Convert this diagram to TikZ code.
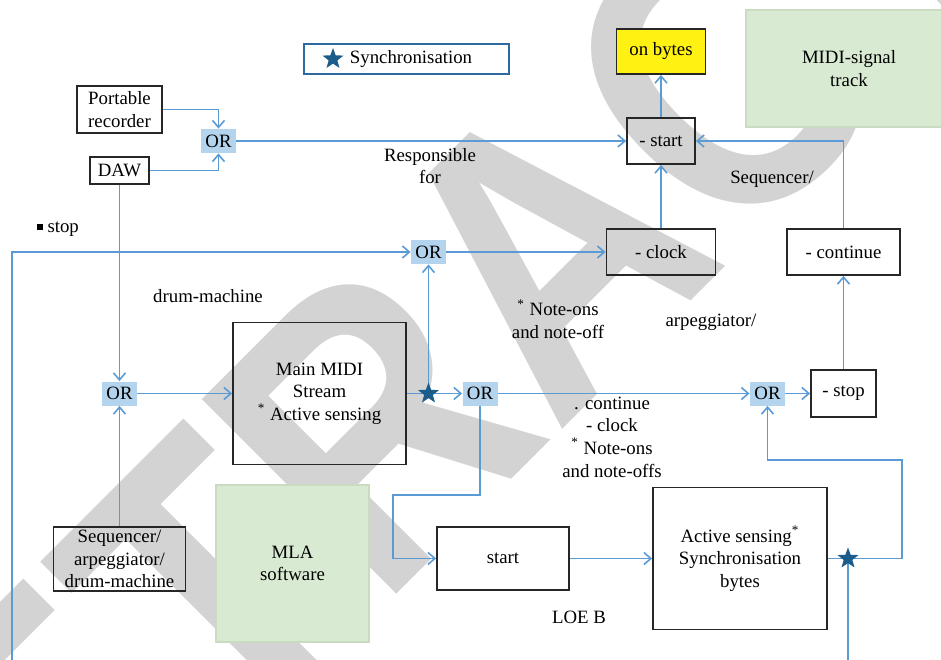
\documentclass[tikz,border=0pt]{standalone}
\usepackage{fontspec}
\setmainfont{Liberation Serif}
\setsansfont{Liberation Sans}
\usepackage{xcolor}
\usepackage{tikz}
\usetikzlibrary{positioning, shapes, shapes.geometric, arrows.meta}

\definecolor{lineblue}{HTML}{5B9BD5}
\definecolor{orfill}{HTML}{B4D4EE}
\definecolor{starblue}{HTML}{1B5C8A}
\definecolor{legendblue}{HTML}{2D6A9F}
\definecolor{softgreen}{HTML}{D9EAD3}
\definecolor{greenedge}{HTML}{C9DCC2}
\definecolor{bytesyellow}{HTML}{FFF212}
\definecolor{wmgray}{HTML}{D3D3D3}

\begin{document}
\begin{tikzpicture}[x=0.5pt, y=-0.5pt, >={Straight Barb[length=3.5pt, width=6pt]},
    font=\fontsize{9.4}{11.3}\selectfont,
    box/.style={draw=black!85, line width=0.9pt, rectangle, align=center, inner sep=1pt},
    orbox/.style={fill=orfill, rectangle, minimum width=17.5pt, minimum height=12pt, inner sep=0pt},
    greenbox/.style={fill=softgreen, draw=greenedge, line width=0.8pt, rectangle, align=center},
    link/.style={draw=lineblue, line width=0.8pt},
    sync/.style={star, star points=5, star point ratio=2.4, fill=starblue, inner sep=0pt, minimum size=11pt},
    note/.style={align=center, inner sep=1pt}]

    \useasboundingbox (0,0) rectangle (941,659);

    % Watermark
    \node[rotate=45, xscale=0.86, text=wmgray, inner sep=0pt,
          font=\fontsize{200}{200}\selectfont\sffamily\bfseries] (wm) at (547,250) {RETRACTED};

    % Legend
    \node[draw=legendblue, line width=0.8pt, rectangle, minimum width=102.5pt, minimum height=15pt] (legend) at (406.5,59) {};
    \node[sync, minimum size=11pt] (legstar) at (333,59) {};
    \node[note] (legtext) at (411,59) {Synchronisation};

    % Sources
    \node[box, minimum width=42.5pt, minimum height=23.5pt] (recorder) at (119.5,109.5) {Portable\\recorder};
    \node[box, minimum width=29.5pt, minimum height=13.5pt] (daw) at (119.5,170.5) {DAW};
    \node[box, minimum width=66pt, minimum height=32pt] (seq) at (119.5,559) {Sequencer/\\arpeggiator/\\drum-machine};

    % OR gates
    \node[orbox] (or1) at (218.5,141) {OR};
    \node[orbox] (or2) at (428.5,252) {OR};
    \node[orbox] (or3) at (119.5,393.5) {OR};
    \node[orbox] (or4) at (480,393.5) {OR};
    \node[orbox] (or5) at (767.5,393.5) {OR};

    % Message boxes
    \node[box, minimum width=34pt, minimum height=23pt] (start) at (661,141) {- start};
    \node[box, fill=bytesyellow, minimum width=44.5pt, minimum height=22.5pt] (bytes) at (661,51.5) {on bytes};
    \node[box, minimum width=54.5pt, minimum height=23pt] (clock) at (661,252) {- clock};
    \node[box, minimum width=56.5pt, minimum height=23pt] (cont) at (843.5,252) {- continue};
    \node[box, minimum width=32.5pt, minimum height=23.5pt] (stop) at (843.5,393.5) {- stop};
    \node[box, minimum width=86.5pt, minimum height=71pt] (main) at (319.5,393.5) {Main MIDI\\Stream\\\textsuperscript{*}\ Active sensing};
    \node[box, minimum width=66pt, minimum height=31.5pt] (startb) at (503,558.5) {start};
    \node[box, minimum width=87pt, minimum height=71pt] (active) at (740,558.5) {Active sensing\textsuperscript{*}\\Synchronisation\\bytes};

    % Software blocks
    \node[greenbox, minimum width=103pt, minimum height=58.5pt] (track) at (849,68.5) {MIDI-signal\\track};
    \node[greenbox, minimum width=76.5pt, minimum height=78.5pt] (mla) at (292.5,563.5) {MLA\\software};

    % Free labels
    \node[note] (resp) at (430,166) {Responsible\\for};
    \node[note] (seqlab) at (772,179) {Sequencer/};
    \node[note] (stoplab) at (58,229) {\rule[0.25ex]{0.3em}{0.3em}\ stop};
    \node[note] (drum) at (208,296) {drum-machine};
    \node[note] (notes1) at (558,319) {\textsuperscript{*} Note-ons\\and note-off};
    \node[note] (arp) at (711,322) {arpeggiator/};
    \node[note] (notes2) at (612,437) {. continue\\- clock\\\textsuperscript{*} Note-ons\\and note-offs};
    \node[note] (loe) at (579,617) {LOE B};

    % Helper points
    \coordinate (leftend) at (12,670);
    \coordinate (bend1) at (393,495);
    \coordinate (bend2) at (902,460);
    \coordinate (downend) at (848,670);
    \coordinate (sync1) at (428.5,393.5);
    \coordinate (sync2) at (848,558.5);

    % Connections: sources to OR gates
    \draw[link, ->] (recorder.east) -| (or1.north);
    \draw[link, ->] (daw.east) -| (or1.south);
    \draw[link, ->] (daw.south) -- (or3.north);
    \draw[link, ->] (seq.north) -- (or3.south);
    \draw[link, ->] (leftend) |- (or2.west);

    % Connections: upper chain
    \draw[link, ->] (or1.east) -- (start.west);
    \draw[link, ->] (start.north) -- (bytes.south);
    \draw[link, ->] (clock.north) -- (start.south);
    \draw[link, ->] (cont.north) |- (start.east);
    \draw[link, ->] (or2.east) -- (clock.west);

    % Connections: main stream
    \draw[link, ->] (or3.east) -- (main.west);
    \draw[link] (main.east) -- (sync1);
    \draw[link, ->] (sync1) -- (or4.west);
    \draw[link, ->] (sync1) -- (or2.south);
    \draw[link, ->] (or4.east) -- (or5.west);
    \draw[link, ->] (or5.east) -- (stop.west);
    \draw[link, ->] (stop.north) -- (cont.south);

    % Connections: lower loop
    \draw[link, ->] (or4.south) |- (bend1) |- (startb.west);
    \draw[link, ->] (startb.east) -- (active.west);
    \draw[link] (active.east) -- (sync2);
    \draw[link, ->] (sync2) -| (bend2) -| (or5.south);
    \draw[link] (sync2) -- (downend);

    % Synchronisation points
    \node[sync] (star1) at (sync1) {};
    \node[sync] (star2) at (sync2) {};

\end{tikzpicture}
\end{document}
